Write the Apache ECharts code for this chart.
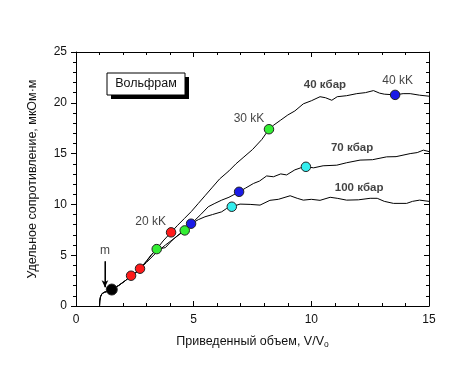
<!DOCTYPE html>
<html><head><meta charset="utf-8">
<script src="https://cdn.jsdelivr.net/npm/echarts@6/dist/echarts.min.js"></script>
<style>html,body{margin:0;padding:0;background:#fff}#c{width:463px;height:378px}</style>
</head><body><div id="c"></div>
<script>
// Common initial part of the curves (V/V0, resistivity)
const commonStart = [[1.0,0],[1.01,0.5],[1.04,0.9],[1.1,1.2],[1.2,1.35],[1.35,1.45],[1.5,1.6],[1.8,2.0],[2.1,2.5],[2.34,2.98],[2.55,3.3],[2.72,3.67]];
const curve40 = [[3.0,4.4],[3.2,5.0],[3.43,5.6],[3.7,6.4],[4.04,7.25],[4.3,7.9],[4.6,8.6],[4.9,9.3],[5.2,10.1],[5.5,10.9],[5.8,11.7],[6.1,12.5],[6.5,13.3],[6.8,14.0],[7.1,14.6],[7.5,15.4],[7.9,16.4],[8.2,17.4],[8.4,17.8],[8.7,18.3],[9.0,18.8],[9.3,19.2],[9.66,19.9],[10.0,20.2],[10.37,20.6],[10.6,20.5],[10.87,20.25],[11.1,20.6],[11.5,20.7],[11.93,20.9],[12.3,21.0],[12.64,21.2],[12.9,20.95],[13.1,20.85],[13.56,20.78],[13.9,20.9],[14.2,20.9],[14.6,20.75],[15.0,20.65]];
const curve70 = [[3.0,4.3],[3.43,5.3],[3.8,6.0],[4.2,6.7],[4.62,7.44],[5.06,8.46],[5.3,9.0],[5.62,9.77],[5.9,10.1],[6.19,10.42],[6.5,10.7],[6.93,11.24],[7.2,11.6],[7.54,12.06],[7.8,12.3],[8.1,12.8],[8.39,12.72],[8.7,13.0],[8.95,12.9],[9.3,13.4],[9.55,13.6],[9.77,13.7],[10.1,13.6],[10.5,13.8],[11.08,13.86],[11.5,14.1],[12.07,14.36],[12.6,14.4],[13.2,14.68],[13.6,14.7],[14.2,15.0],[14.5,15.1],[14.76,15.34],[15.0,15.2]];
const curve100 = [[3.0,4.45],[3.2,5.05],[3.43,5.6],[3.6,5.65],[3.8,5.75],[4.1,6.5],[4.4,7.1],[4.62,7.6],[4.89,8.1],[5.2,8.5],[5.48,8.78],[5.8,9.0],[6.19,9.27],[6.4,9.6],[6.62,9.77],[6.97,10.03],[7.4,10.0],[7.82,9.93],[8.24,10.4],[8.6,10.5],[9.1,10.85],[9.4,10.6],[9.66,10.42],[10.0,10.5],[10.37,10.4],[10.8,10.7],[11.1,10.6],[11.5,10.42],[12.0,10.45],[12.5,10.6],[12.8,10.6],[13.1,10.3],[13.49,10.1],[14.05,10.1],[14.3,10.3],[14.6,10.42],[15.0,10.3]];
// Temperature markers
const pts20kK = [[2.34,2.98],[2.72,3.67],[4.04,7.25]];
const pts30kK = [[3.43,5.6],[4.62,7.44],[8.2,17.4]];
const pts40kK = [[4.89,8.1],[6.93,11.24],[13.56,20.78]];
const pts50kK = [[6.62,9.77],[9.77,13.7]];
const ptsMelt = [[1.52,1.62]];
// Text annotations
const annotations = [
  {name:'40 кбар', value:[10.58,21.73], bold:true},
  {name:'70 кбар', value:[11.73,15.57], bold:true},
  {name:'100 кбар', value:[12.03,11.6], bold:true},
  {name:'40 kK', value:[13.67,22.22]},
  {name:'30 kK', value:[7.35,18.39]},
  {name:'20 kK', value:[3.17,8.26]},
  {name:'m', value:[1.23,5.41]}
];
const arrowM = [[1.23,4.4],[1.23,1.85]];
const xTicks = [0,5,10,15];
const yTicks = [0,5,10,15,20,25];

const font = 'Liberation Sans, Arial, sans-serif';
const chart = echarts.init(document.getElementById('c'), null, {renderer:'canvas'});
const lineSeries = (data) => ({type:'line', data:data, showSymbol:false, symbol:'none', smooth:false,
  lineStyle:{color:'#000', width:1}, xAxisIndex:0, yAxisIndex:0, z:2, silent:true});
const markerSeries = (data, color, size) => ({type:'scatter', data:data, symbol:'circle', symbolSize:size||9.5,
  itemStyle:{color:color, borderColor:'#222', borderWidth:1, opacity:1}, z:5, xAxisIndex:0, yAxisIndex:0});

chart.setOption({
  animation:false,
  textStyle:{fontFamily:font},
  grid:{left:76, right:34, top:52, bottom:72, containLabel:false},
  xAxis:[{
    type:'value', min:0, max:15, interval:5, position:'bottom',
    name:'Приведенный объем, V/V{sub|o}', nameLocation:'middle', nameGap:28,
    nameTextStyle:{fontSize:12.5, color:'#111', fontFamily:font, rich:{sub:{fontSize:8.5, verticalAlign:'bottom', padding:[6,0,0,0], color:'#111'}}},
    axisLine:{show:true, onZero:false, lineStyle:{color:'#000', width:1}},
    axisTick:{show:true, inside:true, length:5, lineStyle:{color:'#000'}},
    minorTick:{show:true, splitNumber:5, length:3, lineStyle:{color:'#000'}},
    axisLabel:{color:'#111', fontSize:12, margin:8, fontFamily:font, formatter:(v)=> xTicks.includes(v)? String(v):''},
    splitLine:{show:false}
  },{
    type:'value', min:0, max:15, interval:5, position:'top',
    axisLine:{show:true, onZero:false, lineStyle:{color:'#000', width:1}},
    axisTick:{show:true, inside:true, length:5, lineStyle:{color:'#000'}},
    minorTick:{show:true, splitNumber:5, length:3, lineStyle:{color:'#000'}},
    axisLabel:{show:false}, splitLine:{show:false}
  }],
  yAxis:[{
    type:'value', min:0, max:25, interval:5, position:'left',
    name:'Удельное сопротивление, мкОм·м', nameLocation:'middle', nameGap:37, nameRotate:90,
    nameTextStyle:{fontSize:12.5, color:'#111', fontFamily:font},
    axisLine:{show:true, onZero:false, lineStyle:{color:'#000', width:1}},
    axisTick:{show:true, inside:false, length:5, lineStyle:{color:'#000'}},
    minorTick:{show:true, splitNumber:5, length:3, lineStyle:{color:'#000'}},
    axisLabel:{color:'#111', fontSize:12, margin:9, fontFamily:font, formatter:(v)=> yTicks.includes(v)? String(v):''},
    splitLine:{show:false}
  },{
    type:'value', min:0, max:25, interval:5, position:'right',
    axisLine:{show:true, onZero:false, lineStyle:{color:'#000', width:1}},
    axisTick:{show:true, inside:true, length:5, lineStyle:{color:'#000'}},
    minorTick:{show:true, splitNumber:5, length:3, lineStyle:{color:'#000'}},
    axisLabel:{show:false}, splitLine:{show:false}
  }],
  series:[
    lineSeries(commonStart.concat(curve40)),
    lineSeries(commonStart.concat(curve70)),
    lineSeries(commonStart.concat(curve100)),
    {type:'line', data:arrowM, symbol:'none', lineStyle:{color:'#000', width:1}, z:3, silent:true,
      markLine:{silent:true, symbol:['none','arrow'], symbolSize:[5,7], label:{show:false},
        lineStyle:{color:'#000', width:1, type:'solid'}, animation:false,
        data:[[{coord:arrowM[0]},{coord:arrowM[1]}]]}},
    markerSeries(ptsMelt, '#000', 11),
    markerSeries(pts20kK, '#ff1a1a'),
    markerSeries(pts30kK, '#33ee33'),
    markerSeries(pts40kK, '#1a1ae6'),
    markerSeries(pts50kK, '#33eeee'),
    {type:'scatter', symbol:'circle', symbolSize:0, z:6, silent:true,
      data:annotations.map(a=>({name:a.name, value:a.value,
        label:{show:true, position:'inside', formatter:a.name, color:'#111', fontFamily:font,
          fontSize:a.bold?11.5:12, fontWeight:a.bold?'bold':'normal'}}))}
  ],
  graphic:[
    {type:'rect', shape:{x:111, y:77, width:78, height:22}, style:{fill:'#000'}, z:10},
    {type:'rect', shape:{x:107, y:73, width:78, height:22}, style:{fill:'#fff', stroke:'#000', lineWidth:1}, z:11},
    {type:'text', x:146, y:84, z:12, style:{text:'Вольфрам', fill:'#111', font:'12.5px '+font, align:'center', verticalAlign:'middle'}}
  ]
});
</script></body></html>
